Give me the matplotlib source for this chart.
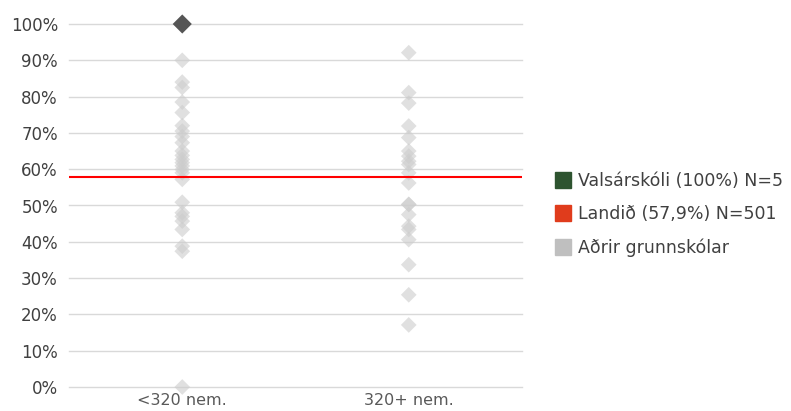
import matplotlib.pyplot as plt
from matplotlib.lines import Line2D
import numpy as np

plt.rcParams['font.family'] = ['DejaVu Sans']

categories = ['<320 nem.', '320+ nem.']
small_schools = [0.90, 0.84, 0.825, 0.785, 0.756, 0.72, 0.705, 0.69, 0.673, 0.65,
                 0.638, 0.627, 0.618, 0.609, 0.599, 0.59, 0.572, 0.509, 0.48, 0.47,
                 0.457, 0.434, 0.388, 0.374, 0.0]
large_schools = [0.921, 0.811, 0.782, 0.719, 0.687, 0.65, 0.636, 0.622, 0.613, 0.59,
                 0.562, 0.503, 0.503, 0.475, 0.443, 0.434, 0.406, 0.337, 0.254, 0.171]
school_value = 1.0
school_group = 0
national = 0.579
yticks = np.arange(0, 1.01, 0.1)

fig = plt.figure(figsize=(7.91, 4.11), dpi=100)
ax = fig.add_axes([69 / 791, 24 / 411, 453 / 791, 363 / 411])

ax.set_xlim(-0.5, 1.5)
ax.set_ylim(0, 1)
for y in yticks:
    ax.axhline(y, color='#d9d9d9', lw=1, zorder=0, clip_on=False)

ax.scatter(np.zeros(len(small_schools)), small_schools, marker='D', s=64,
           color='#cccccc', alpha=0.6, edgecolors='none', clip_on=False, zorder=2)
ax.scatter(np.ones(len(large_schools)), large_schools, marker='D', s=64,
           color='#cccccc', alpha=0.6, edgecolors='none', clip_on=False, zorder=2)
ax.scatter([school_group], [school_value], marker='D', s=95, color='#555555',
           edgecolors='none', clip_on=False, zorder=4)
ax.axhline(national, color='#ff0000', lw=1.5, zorder=3)

ax.set_xticks([0, 1])
ax.set_xticklabels(categories, fontsize=11.5, color='#595959')
ax.set_yticks(yticks)
ax.set_yticklabels([f'{int(round(v * 100))}%' for v in yticks], fontsize=12,
                   color='#404040')
ax.tick_params(length=0)
ax.tick_params(axis='y', pad=8)
ax.tick_params(axis='x', pad=4)
for s in ax.spines.values():
    s.set_visible(False)

handles = [Line2D([], [], marker='s', ls='none', color='#2e5430', markersize=11.5),
           Line2D([], [], marker='s', ls='none', color='#e03c1c', markersize=11.5),
           Line2D([], [], marker='s', ls='none', color='#bfbfbf', markersize=11.5)]
labels = ['Valsárskóli (100%) N=5', 'Landið (57,9%) N=501', 'Aðrir grunnskólar']
leg = fig.legend(handles, labels, loc='center left', bbox_to_anchor=(555 / 791, 1 - 214.6 / 411),
                 frameon=False, fontsize=12.5, handletextpad=0.4, handlelength=0.92,
                 borderpad=0, borderaxespad=0, labelspacing=0.9, labelcolor='#404040')

fig.savefig('out.png', dpi=100)
